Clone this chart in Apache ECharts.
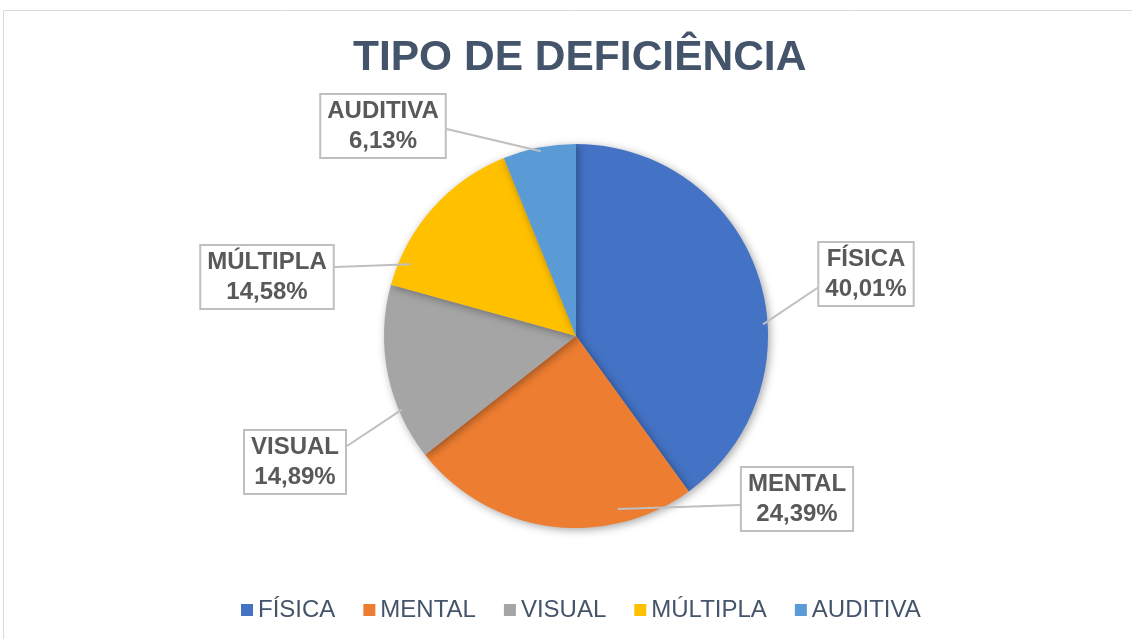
<!DOCTYPE html>
<html>
<head>
<meta charset="utf-8">
<script src="https://cdn.jsdelivr.net/npm/echarts@6/dist/echarts.min.js"></script>
<style>
  html, body { margin: 0; padding: 0; background: #fff; }
  #chart { width: 1132px; height: 639px; }
</style>
</head>
<body>
<div id="chart"></div>
<script>
const categories = ['FÍSICA', 'MENTAL', 'VISUAL', 'MÚLTIPLA', 'AUDITIVA']
const values = [40.01, 24.39, 14.89, 14.58, 6.13]
const colors = ['#4472C4', '#ED7D31', '#A5A5A5', '#FFC000', '#5B9BD5']
// where the callout boxes sit (centre of box)
const labelSpots = [[866, 274], [797, 499], [295, 462], [267, 277], [383, 126]]
// which box edge the pointer leaves from (-1 left, 1 right) and y shift
const labelAnchor = [[-1, 14], [-1, 6], [1, -16], [1, -10], [1, 3]]
// where the pointer touches the slice: [fraction along the arc, fraction of radius]
const pointerTip = [[0.60, 0.976], [0.255, 0.927], [0.284, 0.985], [0.152, 0.94], [0.51, 0.98]]

const cx = 576, cy = 336, R = 192

let myChart = echarts.init(document.getElementById('chart'))

const total = values.reduce((a, b) => a + b, 0)

function tipPoint(i) {
  let before = 0
  for (let k = 0; k < i; k++) before += values[k]
  const t = pointerTip[i]
  const ang = (before + values[i] * t[0]) / total * Math.PI * 2 // clockwise from top
  const r = R * t[1]
  return [cx + r * Math.sin(ang), cy - r * Math.cos(ang)]
}

const pieData = categories.map((c, i) => ({ name: c, value: values[i] }))

let option = {
  animation: false,
  color: colors,
  graphic: [{
    type: 'rect',
    shape: { x: 3.5, y: 10.5, width: 1200, height: 700 },
    style: { fill: 'none', stroke: '#D9D9D9', lineWidth: 1 },
    silent: true
  }],
  title: {
    text: 'TIPO DE DEFICIÊNCIA',
    left: 348,
    top: 32,
    textStyle: {
      fontFamily: 'Liberation Sans, Arial, sans-serif',
      fontSize: 42.5,
      fontWeight: 'bold',
      color: '#44546A'
    }
  },
  legend: {
    data: categories,
    bottom: 12,
    left: 236,
    icon: 'rect',
    itemWidth: 12,
    itemHeight: 12,
    itemGap: 28,
    textStyle: {
      fontFamily: 'Liberation Sans, Arial, sans-serif',
      fontSize: 24,
      color: '#44546A'
    }
  },
  series: [{
    // the slices
    type: 'pie',
    z: 2,
    center: [cx, cy],
    radius: R,
    startAngle: 90,
    clockwise: true,
    data: pieData,
    itemStyle: {
      shadowBlur: 8,
      shadowColor: 'rgba(0,0,0,0.35)',
      shadowOffsetX: 2,
      shadowOffsetY: 2
    },
    label: { show: false },
    labelLine: { show: false }
  }, {
    // callouts on top, so the pointers show over the slices
    type: 'pie',
    z: 5,
    silent: true,
    center: [cx, cy],
    radius: R,
    startAngle: 90,
    clockwise: true,
    data: pieData,
    itemStyle: { color: 'rgba(0,0,0,0)' },
    label: {
      show: true,
      formatter: p => p.name + '\n' + p.value.toFixed(2).replace('.', ',') + '%',
      fontFamily: 'Liberation Sans, Arial, sans-serif',
      fontSize: 24,
      fontWeight: 'bold',
      lineHeight: 30,
      color: '#595959',
      backgroundColor: '#fff',
      borderColor: '#BFBFBF',
      borderWidth: 2,
      padding: [1, 6, 1, 6],
      align: 'center'
    },
    labelLine: {
      show: true,
      length: 20,
      length2: 20,
      lineStyle: { color: '#BFBFBF', width: 2 }
    },
    labelLayout: p => {
      const i = p.dataIndex
      const s = labelSpots[i]
      const a = labelAnchor[i]
      const w = p.labelRect.width
      const end = [s[0] + a[0] * w / 2, s[1] + a[1]]
      return {
        x: s[0], y: s[1], align: 'center', verticalAlign: 'middle',
        labelLinePoints: [tipPoint(i), end, end]
      }
    }
  }]
}
myChart.setOption(option)
</script>
</body>
</html>
